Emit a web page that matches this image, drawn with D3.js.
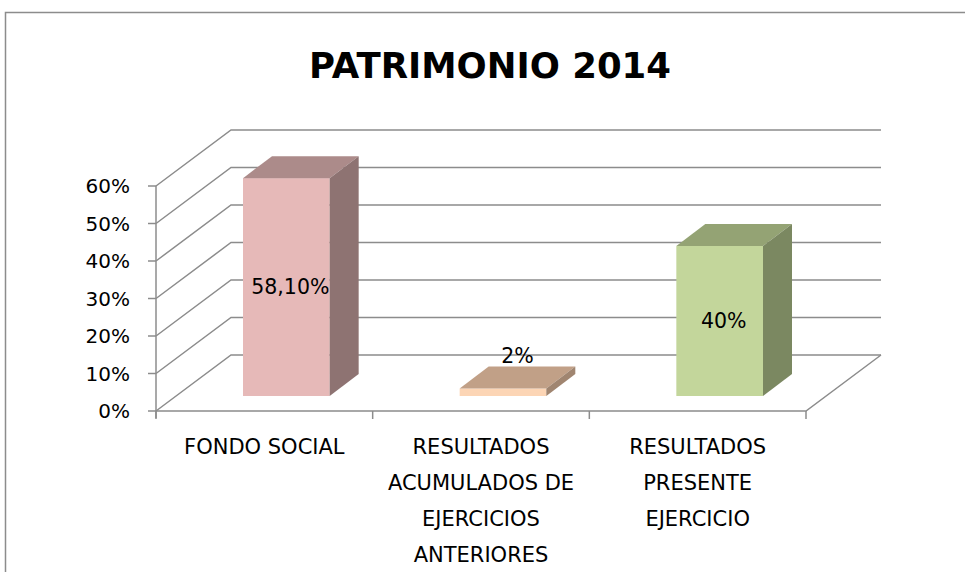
<!DOCTYPE html>
<html>
<head>
<meta charset="utf-8">
<script src="https://cdn.jsdelivr.net/npm/d3@7"></script>
<style>
  body { margin: 0; background: #fff; }
  svg { display: block; }
  text { font-family: "DejaVu Sans", sans-serif; fill: #000; }
</style>
</head>
<body>
<svg id="chart" width="965" height="572"></svg>
<script>
// data
const categories = [
  "FONDO SOCIAL",
  "RESULTADOS\nACUMULADOS DE\nEJERCICIOS\nANTERIORES",
  "RESULTADOS\nPRESENTE\nEJERCICIO"
];
const values = [0.581, 0.02, 0.40];
const valueLabels = ["58,10%", "2%", "40%"];
const yTicks = [0, 0.1, 0.2, 0.3, 0.4, 0.5, 0.6];
const title = "PATRIMONIO 2014";

// colours per bar: front, top, side
const palette = [
  { front: "#e6b9b8", top: "#ac8b8a", side: "#8e7372" },
  { front: "#fcd5b5", top: "#c1a087", side: "#a08570" },
  { front: "#c3d69b", top: "#94a374", side: "#7b8861" }
];

const svg = d3.select("#chart");
const gridColor = "#8c8c8c";

// front plane of the floor and the depth of the 3d box
const left = 156, right = 806, floorY = 411, topY = 186;
const depth = { dx: 75, dy: -56 };
const barFront = { dx: 22, dy: -15 };   // where the bars start inside the box
const barDepth = { dx: 29, dy: -22 };

const y = d3.scaleLinear().domain([0, 0.6]).range([floorY, topY]);
const x = d3.scaleBand().domain(categories).range([left, right]);
const pct = d3.format(".0%");

// outer frame
svg.append("rect")
  .attr("x", 5.5).attr("y", 12.5)
  .attr("width", 1000).attr("height", 700)
  .attr("fill", "none")
  .attr("stroke", "#8c8c8c")
  .attr("stroke-width", 1.5);

svg.append("text")
  .attr("x", 490).attr("y", 78)
  .attr("text-anchor", "middle")
  .style("font-size", "35.5px")
  .style("font-weight", "bold")
  .text(title);

const grid = svg.append("g")
  .attr("stroke", gridColor)
  .attr("stroke-width", 1.5)
  .attr("fill", "none");

// back wall lines + left wall diagonals
grid.selectAll("path.wall")
  .data(yTicks)
  .enter()
  .append("path")
  .attr("class", "wall")
  .attr("d", d => {
    const yy = y(d);
    return `M${left},${yy}L${left + depth.dx},${yy + depth.dy}L${right + depth.dx},${yy + depth.dy}`;
  });

// floor: front edge and right diagonal
grid.append("path")
  .attr("d", `M${left},${floorY}L${right},${floorY}L${right + depth.dx},${floorY + depth.dy}`);

// y axis line and ticks
grid.append("line")
  .attr("x1", left).attr("x2", left)
  .attr("y1", topY).attr("y2", floorY + 7);

grid.selectAll("line.ytick")
  .data(yTicks)
  .enter()
  .append("line")
  .attr("class", "ytick")
  .attr("x1", left - 8).attr("x2", left)
  .attr("y1", d => y(d)).attr("y2", d => y(d));

// x ticks at band edges
const xEdges = categories.map(c => x(c)).concat([right]);
grid.selectAll("line.xtick")
  .data(xEdges)
  .enter()
  .append("line")
  .attr("class", "xtick")
  .attr("x1", d => d).attr("x2", d => d)
  .attr("y1", floorY).attr("y2", floorY + 8);

svg.selectAll("text.ylab")
  .data(yTicks)
  .enter()
  .append("text")
  .attr("class", "ylab")
  .attr("x", 130)
  .attr("y", d => y(d))
  .attr("dy", "0.36em")
  .attr("text-anchor", "end")
  .style("font-size", "20px")
  .text(d => pct(d));

// category labels
svg.selectAll("text.xlab")
  .data(categories)
  .enter()
  .append("text")
  .attr("class", "xlab")
  .attr("text-anchor", "middle")
  .style("font-size", "21px")
  .each(function (d) {
    const cx = x(d) + x.bandwidth() / 2;
    d3.select(this).selectAll("tspan")
      .data(d.split("\n"))
      .enter()
      .append("tspan")
      .attr("x", cx)
      .attr("y", (l, i) => 454 + i * 36)
      .text(l => l);
  });

// 3d bars
const bw = x.bandwidth() * 0.4;
const bars = categories.map((c, i) => {
  const x0 = x(c) + x.bandwidth() * 0.3 + barFront.dx;
  const yTop = y(values[i]) + barFront.dy;
  const yBot = y(0) + barFront.dy;
  return { i, x0, x1: x0 + bw, yTop, yBot };
});

const barG = svg.selectAll("g.bar")
  .data(bars)
  .enter()
  .append("g")
  .attr("class", "bar");

barG.append("rect")
  .attr("x", d => d.x0)
  .attr("y", d => d.yTop)
  .attr("width", bw)
  .attr("height", d => d.yBot - d.yTop)
  .attr("fill", d => palette[d.i].front);

barG.append("path")
  .attr("d", d => `M${d.x0},${d.yTop}L${d.x1},${d.yTop}L${d.x1 + barDepth.dx},${d.yTop + barDepth.dy}L${d.x0 + barDepth.dx},${d.yTop + barDepth.dy}Z`)
  .attr("fill", d => palette[d.i].top);

barG.append("path")
  .attr("d", d => `M${d.x1},${d.yTop}L${d.x1 + barDepth.dx},${d.yTop + barDepth.dy}L${d.x1 + barDepth.dx},${d.yBot + barDepth.dy}L${d.x1},${d.yBot}Z`)
  .attr("fill", d => palette[d.i].side);

// value labels: centred on front face, above the bar if it's too short
barG.append("text")
  .attr("text-anchor", "middle")
  .style("font-size", "20.5px")
  .attr("x", d => (d.yBot - d.yTop < 30) ? (d.x0 + d.x1) / 2 + barDepth.dx / 2 : (d.x0 + d.x1) / 2 + 4)
  .attr("y", d => (d.yBot - d.yTop < 30) ? d.yTop + barDepth.dy - 11 : (d.yTop + d.yBot) / 2)
  .attr("dy", "0.36em")
  .text(d => valueLabels[d.i]);
</script>
</body>
</html>
